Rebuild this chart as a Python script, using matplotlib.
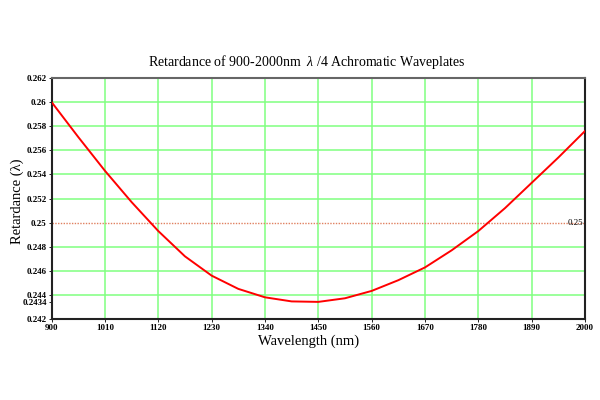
import matplotlib
matplotlib.use("Agg")
import matplotlib.pyplot as plt
from matplotlib.ticker import FixedLocator, FuncFormatter

wavelength = [900, 955, 1010, 1065, 1120, 1175, 1230, 1285, 1340, 1395, 1450,
              1505, 1560, 1615, 1670, 1725, 1780, 1835, 1890, 1945, 2000]
retardance = [0.2600, 0.2571, 0.2543, 0.2517, 0.2493, 0.2472, 0.2456, 0.2445,
              0.2438, 0.24346, 0.24342, 0.24372, 0.24433, 0.24522, 0.24628,
              0.2477, 0.2493, 0.2512, 0.2533, 0.2554, 0.2576]
x_ticks = [900, 1010, 1120, 1230, 1340, 1450, 1560, 1670, 1780, 1890, 2000]
y_ticks = [0.242, 0.244, 0.246, 0.248, 0.25, 0.252, 0.254, 0.256, 0.258, 0.26, 0.262]
y_min_label = 0.2434
ref_level = 0.25

plt.rcParams['font.family'] = ['Liberation Serif', 'DejaVu Serif']
plt.rcParams['mathtext.fontset'] = 'custom'
plt.rcParams['mathtext.rm'] = 'Liberation Serif'
plt.rcParams['mathtext.it'] = 'Liberation Serif:italic'

fig = plt.figure(figsize=(6, 4), dpi=100)
ax = fig.add_axes([0.086, 0.2025, 0.889, 0.6025])

ax.set_xlim(900, 2000)
ax.set_ylim(0.242, 0.262)

green = '#80ff80'
for xv in x_ticks[1:-1]:
    ax.axvline(xv, color=green, lw=1.1, zorder=1)
for yv in y_ticks[1:-1]:
    if yv != ref_level:
        ax.axhline(yv, color=green, lw=1.1, zorder=1)

ax.axhline(ref_level, color='#e08060', lw=1.0, ls=(0, (1, 1)), zorder=2)
ax.text(1997, ref_level, '0.25', fontsize=6.5, ha='right', va='center', zorder=3)

ax.plot(wavelength, retardance, color='#ff0000', lw=1.4, zorder=4)

ax.xaxis.set_major_locator(FixedLocator(x_ticks))
ax.yaxis.set_major_locator(FixedLocator(y_ticks + [y_min_label]))

def yfmt(v, pos):
    return ('%.4f' % v).rstrip('0').rstrip('.')

ax.yaxis.set_major_formatter(FuncFormatter(yfmt))
ax.tick_params(axis='both', labelsize=6.5, length=2, width=0.6, pad=1.5)
for lab in ax.get_xticklabels() + ax.get_yticklabels():
    lab.set_fontweight('bold')

for side in ['left', 'bottom', 'right']:
    ax.spines[side].set_linewidth(1.5)
    ax.spines[side].set_color('#222222')
ax.spines['top'].set_linewidth(1.5)
ax.spines['top'].set_color('#666666')

fig.text(307 / 600, 1 - 62 / 400,
         'Retardance of 900-2000nm  $\\lambda$ /4 Achromatic Waveplates',
         fontsize=10, ha='center', va='center')
fig.text(309 / 600, 1 - 341 / 400, 'Wavelength (nm)', fontsize=10.5,
         ha='center', va='center')
fig.text(17 / 600, 1 - 201 / 400, 'Retardance (λ)', fontsize=10.5,
         ha='center', va='center', rotation=90)

fig.savefig('out.png', dpi=100)
